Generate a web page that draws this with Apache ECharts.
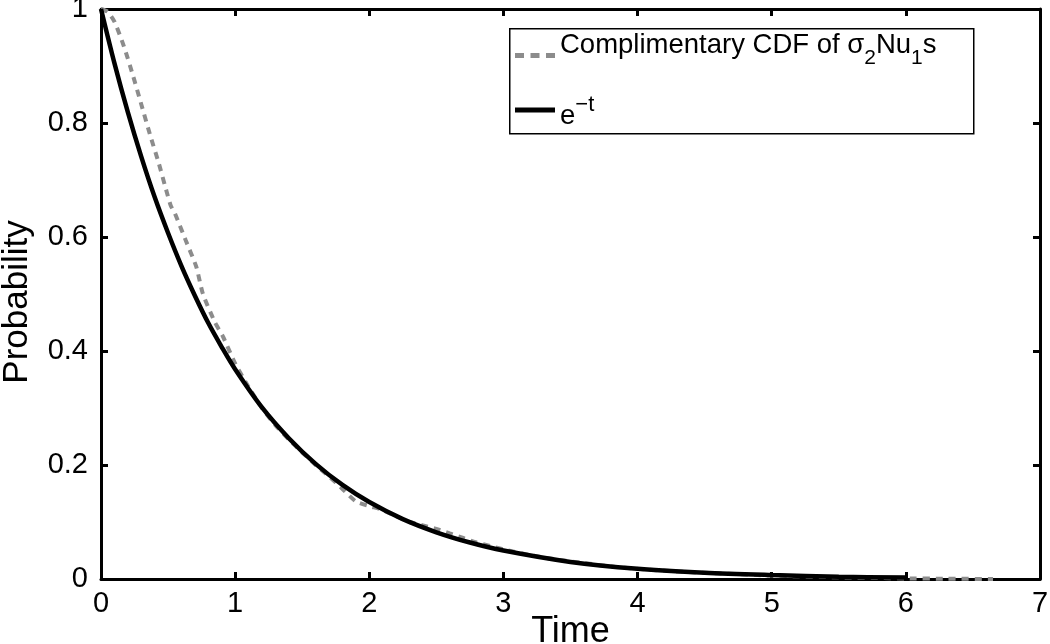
<!DOCTYPE html>
<html>
<head>
<meta charset="utf-8">
<script src="https://cdn.jsdelivr.net/npm/echarts@6/dist/echarts.min.js"></script>
<style>html,body{margin:0;padding:0;background:#fff;}#chart{width:1050px;height:644px;}</style>
</head>
<body>
<div id="chart"></div>
<script>
const ccdfTime = [0, 0.05, 0.1, 0.17, 0.24, 0.3, 0.37, 0.43, 0.49, 0.52, 0.55, 0.63, 0.71, 0.76, 0.85, 0.91, 1.0, 1.1, 1.2, 1.3, 1.4, 1.5, 1.6, 1.7, 1.8, 1.9, 2.0, 2.1, 2.2, 2.3, 2.4, 2.5, 2.6, 2.7, 2.8, 2.9, 3.0, 3.2, 3.4, 3.6, 3.8, 4.0, 4.3, 4.6, 5.0, 5.5, 6.0, 6.3, 6.65];
const ccdfProb = [1.0, 0.995, 0.978, 0.935, 0.882, 0.833, 0.776, 0.730, 0.679, 0.655, 0.642, 0.595, 0.548, 0.500, 0.450, 0.425, 0.378, 0.337, 0.300, 0.270, 0.245, 0.222, 0.200, 0.180, 0.158, 0.136, 0.128, 0.121, 0.110, 0.100, 0.094, 0.088, 0.080, 0.072, 0.064, 0.058, 0.052, 0.042, 0.034, 0.028, 0.022, 0.018, 0.013, 0.010, 0.006, 0.003, 0.001, 0.0005, 0];
// e^-t reference curve (black solid)
const expTime = [0, 0.1, 0.2, 0.3, 0.4, 0.5, 0.6, 0.7, 0.8, 0.9, 1.0, 1.2, 1.4, 1.6, 1.8, 2.0, 2.25, 2.5, 2.75, 3.0, 3.5, 4.0, 4.5, 5.0, 5.5, 6.0];
const expProb = [1.0, 0.905, 0.819, 0.741, 0.670, 0.607, 0.549, 0.497, 0.449, 0.407, 0.368, 0.301, 0.247, 0.202, 0.165, 0.135, 0.105, 0.082, 0.064, 0.050, 0.030, 0.018, 0.011, 0.007, 0.004, 0.0025];
const xTicks = [0, 1, 2, 3, 4, 5, 6, 7];
const yTicks = [0, 0.2, 0.4, 0.6, 0.8, 1];
const seriesNames = ['ccdf', 'exp'];

const FONT = 'Liberation Sans, Arial, Helvetica, sans-serif';
const zip = (a, b) => a.map((v, i) => [v, b[i]]);

const chart = echarts.init(document.getElementById('chart'), null, {renderer: 'canvas'});

const axisCommon = {
  axisLine: {show: true, onZero: false, lineStyle: {color: '#000', width: 3}},
  axisTick: {show: true, inside: true, length: 7, lineStyle: {color: '#000', width: 3}},
  splitLine: {show: false}
};

const option = {
  backgroundColor: '#fff',
  animation: false,
  grid: {left: 101, right: 10, top: 9, bottom: 65, containLabel: false, outerBoundsMode: 'none'},
  xAxis: [
    Object.assign({
      type: 'value', min: xTicks[0], max: xTicks[xTicks.length - 1], interval: 1, position: 'bottom',
      axisLabel: {fontSize: 29, color: '#000', margin: 10, fontFamily: FONT},
      name: 'Time', nameLocation: 'middle', nameGap: 35, nameMoveOverlap: false,
      nameTextStyle: {fontSize: 36, color: '#000', fontFamily: FONT}
    }, axisCommon),
    Object.assign({
      type: 'value', min: xTicks[0], max: xTicks[xTicks.length - 1], interval: 1, position: 'top',
      axisLabel: {show: false}
    }, axisCommon)
  ],
  yAxis: [
    Object.assign({
      type: 'value', min: yTicks[0], max: yTicks[yTicks.length - 1], interval: 0.2, position: 'left',
      axisLabel: {fontSize: 29, color: '#000', margin: 13, fontFamily: FONT},
      name: 'Probability', nameLocation: 'middle', nameGap: 66,
      nameTextStyle: {fontSize: 35, color: '#000', fontFamily: FONT, padding: [0, 16, 0, 0]}
    }, axisCommon),
    Object.assign({
      type: 'value', min: yTicks[0], max: yTicks[yTicks.length - 1], interval: 0.2, position: 'right',
      axisLabel: {show: false}
    }, axisCommon)
  ],
  graphic: [{
    type: 'rect', left: 509, top: 28, z: 3,
    shape: {width: 464, height: 105},
    style: {fill: '#fff', stroke: '#000', lineWidth: 1.5}
  }],
  legend: {
    orient: 'vertical', left: 515, top: 22, padding: 0,
    itemWidth: 40, itemHeight: 5, itemGap: 25, z: 5,
    data: [
      {name: seriesNames[0], icon: 'path://M0,0H9V5H0Z M15.5,0H24.5V5H15.5Z M31,0H40V5H31Z', textStyle: {padding: [0, 0, 20, 0]}},
      {name: seriesNames[1], icon: 'rect', textStyle: {padding: [12, 0, 0, 0]}}
    ],
    formatter: function (name) {
      if (name === seriesNames[0]) {
        return '{n|Complimentary CDF of σ}{sub|2}{n|Nu}{sub|1}{n|s}';
      }
      return '{n|e}{sup|−t}';
    },
    textStyle: {
      fontFamily: FONT, color: '#000', fontSize: 27.5,
      rich: {
        n: {fontSize: 27.5, lineHeight: 28, fontFamily: FONT, color: '#000'},
        sub: {fontSize: 21, lineHeight: 20, fontFamily: FONT, color: '#000', padding: [26, 0, 0, 0]},
        sup: {fontSize: 22, lineHeight: 20, fontFamily: FONT, color: '#000', padding: [0, 0, 22, 0]}
      }
    }
  },
  series: [
    {
      name: seriesNames[0], type: 'line', xAxisIndex: 0, yAxisIndex: 0,
      data: zip(ccdfTime, ccdfProb), symbol: 'none', smooth: 0.2,
      lineStyle: {color: '#8c8c8c', width: 4, type: [7, 6], cap: 'butt'},
      itemStyle: {color: '#8c8c8c'}, z: 2
    },
    {
      name: seriesNames[1], type: 'line', xAxisIndex: 0, yAxisIndex: 0,
      data: zip(expTime, expProb), symbol: 'none', smooth: 0.3,
      lineStyle: {color: '#000', width: 4.5, type: 'solid'},
      itemStyle: {color: '#000'}, z: 3
    }
  ]
};
chart.setOption(option);
</script>
</body>
</html>
